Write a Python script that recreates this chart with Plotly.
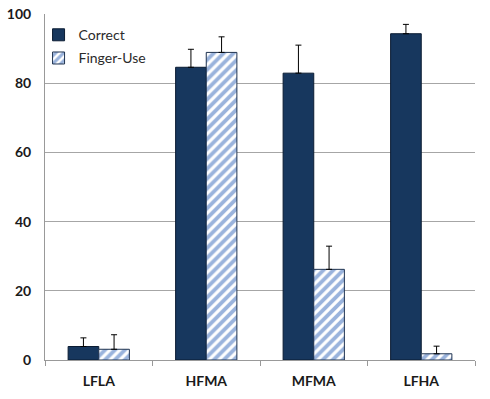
import plotly.graph_objects as go

categories = ["LFLA", "HFMA", "MFMA", "LFHA"]
correct = [3.9, 84.6, 82.9, 94.3]
correct_err = [2.5, 5.2, 8.1, 2.7]
finger_use = [3.1, 88.9, 26.2, 1.8]
finger_err = [4.2, 4.5, 6.7, 2.2]
y_ticks = [0, 20, 40, 60, 80, 100]

fig = go.Figure()
fig.add_trace(go.Bar(
    name="Correct", x=categories, y=correct, legendgroup="a",
    marker=dict(color="#17375E", line=dict(color="#0B1C33", width=1)),
    error_y=dict(type="data", array=correct_err, arrayminus=[0]*4, symmetric=False,
                 color="#000000", thickness=1, width=3),
))
fig.add_trace(go.Bar(
    name="Finger-Use", x=categories, y=finger_use, legendgroup="b",
    marker=dict(color="#FFFFFF", line=dict(color="#1F3350", width=1),
                pattern=dict(shape="/", fgcolor="#3568BA", bgcolor="#FFFFFF",
                             size=7, solidity=0.55)),
    error_y=dict(type="data", array=finger_err, arrayminus=[0]*4, symmetric=False,
                 color="#000000", thickness=1, width=3),
))

fig.update_layout(
    width=490, height=399,
    margin=dict(l=45, r=15, t=14, b=39),
    paper_bgcolor="#FFFFFF", plot_bgcolor="#FFFFFF",
    barmode="group", bargap=0.43, bargroupgap=0,
    font=dict(family="Lato, Liberation Sans, sans-serif", color="#1a1a1a"),
    showlegend=True,
    legend=dict(x=-0.015, y=0.985, xanchor="left", yanchor="top",
                bgcolor="rgba(255,255,255,0)", font=dict(size=14, color="#2b2b2b"),
                itemwidth=30, tracegroupgap=2),
    xaxis=dict(type="category", tickson="boundaries", ticks="outside", ticklen=5,
               tickcolor="#999999", showline=True, linecolor="#999999", linewidth=1,
               showgrid=False, tickfont=dict(size=14, weight="bold"), ticklabelstandoff=8,
               automargin=False),
    yaxis=dict(range=[0, 100], tickvals=y_ticks, showgrid=True, gridcolor="#A6A6A6",
               gridwidth=1, showline=True, linecolor="#999999", linewidth=1,
               zeroline=False, ticks="", tickfont=dict(size=14, weight="bold"),
               ticklabelstandoff=10, automargin=False),
)

fig.write_html("out.html", config={"displayModeBar": False},
               post_script="document.body.style.margin='0';document.body.style.overflow='hidden';")
